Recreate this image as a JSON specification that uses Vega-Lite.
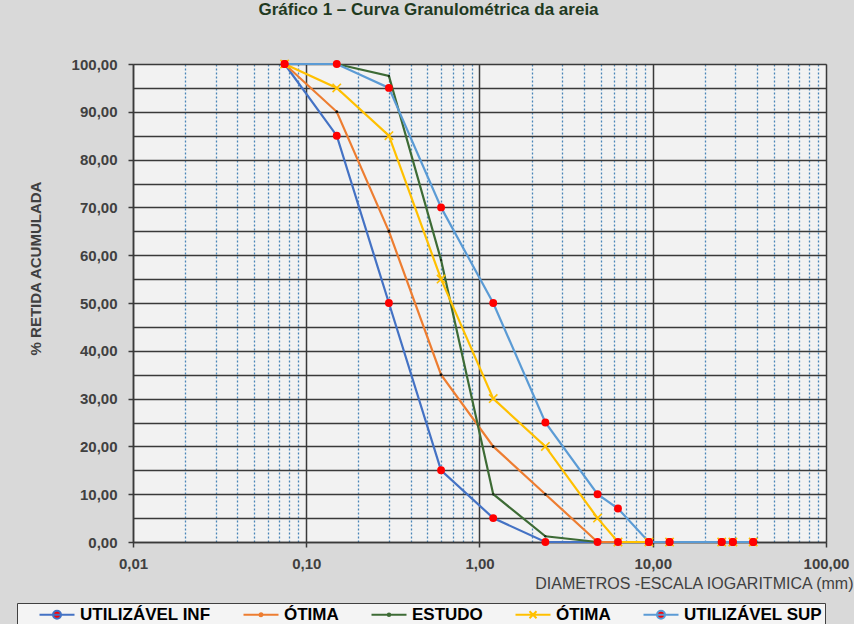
{
  "$schema": "https://vega.github.io/schema/vega-lite/v6.json",
  "autosize": {"type": "none"},
  "width": 693,
  "height": 478,
  "padding": {"left": 133, "top": 64, "right": 28, "bottom": 82},
  "background": "#d9d9d9",
  "title": {
    "text": "Gráfico 1 – Curva Granulométrica da areia",
    "font": "Liberation Sans",
    "fontSize": 17,
    "fontWeight": "bold",
    "color": "#1f3a1f",
    "anchor": "middle",
    "frame": "group",
    "baseline": "alphabetic",
    "offset": 0,
    "dx": -51,
    "dy": -25
  },
  "data": {
    "values": [
      {"d": 0.075, "p": 100, "s": "INF"}, {"d": 0.15, "p": 85, "s": "INF"}, {"d": 0.3, "p": 50, "s": "INF"}, {"d": 0.6, "p": 15, "s": "INF"}, {"d": 1.2, "p": 5, "s": "INF"}, {"d": 2.4, "p": 0, "s": "INF"}, {"d": 4.8, "p": 0, "s": "INF"}, {"d": 6.3, "p": 0, "s": "INF"}, {"d": 9.5, "p": 0, "s": "INF"}, {"d": 12.5, "p": 0, "s": "INF"}, {"d": 25, "p": 0, "s": "INF"}, {"d": 29, "p": 0, "s": "INF"}, {"d": 38, "p": 0, "s": "INF"},
      {"d": 0.075, "p": 100, "s": "OT1"}, {"d": 0.15, "p": 90, "s": "OT1"}, {"d": 0.3, "p": 65, "s": "OT1"}, {"d": 0.6, "p": 35, "s": "OT1"}, {"d": 1.2, "p": 20, "s": "OT1"}, {"d": 2.4, "p": 10, "s": "OT1"}, {"d": 4.8, "p": 0, "s": "OT1"}, {"d": 6.3, "p": 0, "s": "OT1"}, {"d": 9.5, "p": 0, "s": "OT1"}, {"d": 12.5, "p": 0, "s": "OT1"}, {"d": 25, "p": 0, "s": "OT1"}, {"d": 29, "p": 0, "s": "OT1"}, {"d": 38, "p": 0, "s": "OT1"},
      {"d": 0.075, "p": 100, "s": "EST"}, {"d": 0.15, "p": 100, "s": "EST"}, {"d": 0.3, "p": 97.5, "s": "EST"}, {"d": 0.6, "p": 59, "s": "EST"}, {"d": 1.2, "p": 10, "s": "EST"}, {"d": 2.4, "p": 1.2, "s": "EST"}, {"d": 4.8, "p": 0, "s": "EST"},
      {"d": 0.075, "p": 100, "s": "OT2"}, {"d": 0.15, "p": 95, "s": "OT2"}, {"d": 0.3, "p": 85, "s": "OT2"}, {"d": 0.6, "p": 55, "s": "OT2"}, {"d": 1.2, "p": 30, "s": "OT2"}, {"d": 2.4, "p": 20, "s": "OT2"}, {"d": 4.8, "p": 5, "s": "OT2"}, {"d": 6.3, "p": 0, "s": "OT2"}, {"d": 9.5, "p": 0, "s": "OT2"}, {"d": 12.5, "p": 0, "s": "OT2"}, {"d": 25, "p": 0, "s": "OT2"}, {"d": 29, "p": 0, "s": "OT2"}, {"d": 38, "p": 0, "s": "OT2"},
      {"d": 0.075, "p": 100, "s": "SUP"}, {"d": 0.15, "p": 100, "s": "SUP"}, {"d": 0.3, "p": 95, "s": "SUP"}, {"d": 0.6, "p": 70, "s": "SUP"}, {"d": 1.2, "p": 50, "s": "SUP"}, {"d": 2.4, "p": 25, "s": "SUP"}, {"d": 4.8, "p": 10, "s": "SUP"}, {"d": 6.3, "p": 7, "s": "SUP"}, {"d": 9.5, "p": 0, "s": "SUP"}, {"d": 12.5, "p": 0, "s": "SUP"}, {"d": 25, "p": 0, "s": "SUP"}, {"d": 29, "p": 0, "s": "SUP"}, {"d": 38, "p": 0, "s": "SUP"}
    ]
  },
  "layer": [
    {
      "mark": {"type": "line", "strokeWidth": 2.2},
      "encoding": {
        "x": {"field": "d", "type": "quantitative", "scale": {"type": "log", "domain": [0.01, 100], "nice": false},
          "axis": {"orient": "bottom", "values": [0.02,0.03,0.04,0.05,0.06,0.07,0.08,0.09,0.2,0.3,0.4,0.5,0.6,0.7,0.8,0.9,2,3,4,5,6,7,8,9,20,30,40,50,60,70,80,90],
            "grid": true, "gridColor": "#4a86b8", "gridDash": [2, 2], "gridWidth": 1.3, "labels": false, "ticks": false, "domain": false, "title": null}},
        "y": {"field": "p", "type": "quantitative", "scale": {"domain": [0, 100], "nice": false},
          "axis": {"orient": "left", "values": [5,15,25,35,45,55,65,75,85,95], "grid": true, "gridColor": "#3a3a3a", "gridWidth": 1.5, "labels": false, "ticks": false, "domain": false, "title": null}},
        "stroke": {"field": "s", "type": "nominal", "title": " ",
          "scale": {"domain": ["INF", "OT1", "EST", "OT2", "SUP"], "range": ["#4472C4", "#ED7D31", "#3D6B35", "#FFC000", "#5B9BD5"]},
          "legend": {"orient": "none", "legendX": -116, "legendY": 539, "direction": "horizontal",
            "labelExpr": "datum.value == 'INF' ? 'UTILIZÁVEL INF' : datum.value == 'EST' ? 'ESTUDO' : datum.value == 'SUP' ? 'UTILIZÁVEL SUP' : 'ÓTIMA'"}}
      }
    },
    {
      "transform": [{"filter": "datum.s === 'OT1'"}],
      "mark": {"type": "point", "filled": true, "shape": "circle", "color": "#111111", "size": 9, "opacity": 1},
      "encoding": {
        "x": {"field": "d", "type": "quantitative", "scale": {"type": "log", "domain": [0.01, 100], "nice": false}, "axis": null},
        "y": {"field": "p", "type": "quantitative", "scale": {"domain": [0, 100], "nice": false}, "axis": null}
      }
    },
    {
      "transform": [{"filter": "datum.s === 'EST'"}],
      "mark": {"type": "point", "filled": true, "shape": "circle", "color": "#1c3318", "size": 6, "opacity": 1},
      "encoding": {
        "x": {"field": "d", "type": "quantitative", "scale": {"type": "log", "domain": [0.01, 100], "nice": false}, "axis": null},
        "y": {"field": "p", "type": "quantitative", "scale": {"domain": [0, 100], "nice": false}, "axis": null}
      }
    },
    {
      "transform": [{"filter": "datum.s === 'OT2'"}],
      "mark": {"type": "point", "filled": false, "shape": "M-1,-1L1,1M-1,1L1,-1", "color": "#FFC000", "strokeWidth": 1.6, "size": 70, "opacity": 1},
      "encoding": {
        "x": {"field": "d", "type": "quantitative", "scale": {"type": "log", "domain": [0.01, 100], "nice": false}, "axis": null},
        "y": {"field": "p", "type": "quantitative", "scale": {"domain": [0, 100], "nice": false}, "axis": null}
      }
    },
    {
      "transform": [{"filter": "datum.s === 'INF' || datum.s === 'SUP'"}],
      "mark": {"type": "point", "filled": true, "shape": "circle", "color": "#FF0000", "size": 62, "opacity": 1},
      "encoding": {
        "x": {"field": "d", "type": "quantitative", "scale": {"type": "log", "domain": [0.01, 100], "nice": false},
          "axis": {"orient": "bottom", "values": [0.01, 0.1, 1, 10, 100], "format": ".2f", "grid": true, "gridColor": "#3a3a3a", "gridWidth": 1.5,
            "domain": true, "domainColor": "#3a3a3a", "domainWidth": 1.5, "ticks": true, "tickColor": "#3a3a3a", "tickWidth": 1.5, "tickSize": 5,
            "labelFont": "Liberation Sans", "labelFontSize": 15, "labelFontWeight": "bold", "labelColor": "#404040", "labelPadding": 9,
            "labelFlush": false, "labelOverlap": false,
            "title": "DIAMETROS -ESCALA IOGARITMICA (mm)", "titleFont": "Liberation Sans", "titleFontSize": 16, "titleFontWeight": "normal",
            "titleColor": "#404040", "titleAlign": "right", "titleAnchor": "end", "titleX": 720, "titleY": 41, "titleBaseline": "middle"}},
        "y": {"field": "p", "type": "quantitative", "scale": {"domain": [0, 100], "nice": false},
          "axis": {"orient": "left", "values": [0,10,20,30,40,50,60,70,80,90,100], "format": ".2f", "grid": true, "gridColor": "#3a3a3a", "gridWidth": 1.5,
            "domain": true, "domainColor": "#3a3a3a", "domainWidth": 1.5, "ticks": true, "tickColor": "#3a3a3a", "tickWidth": 1.5, "tickSize": 5,
            "labelFont": "Liberation Sans", "labelFontSize": 15, "labelFontWeight": "bold", "labelColor": "#404040", "labelPadding": 11,
            "labelOverlap": false, "labelFlush": false,
            "title": "% RETIDA  ACUMULADA", "titleFont": "Liberation Sans", "titleFontSize": 15, "titleFontWeight": "bold", "titleColor": "#404040",
            "titleAngle": 270, "titleX": -98, "titleY": 204, "titleAlign": "center", "titleBaseline": "middle"}}
      }
    },
    {
      "transform": [{"filter": "datum.p < -1"}],
      "mark": {"type": "point", "opacity": 1},
      "encoding": {
        "x": {"field": "d", "type": "quantitative", "scale": {"type": "log", "domain": [0.01, 100], "nice": false}, "axis": null},
        "y": {"field": "p", "type": "quantitative", "scale": {"domain": [0, 100], "nice": false}, "axis": null},
        "stroke": {"field": "s", "type": "nominal", "title": " ",
          "scale": {"domain": ["INF", "OT1", "EST", "OT2", "SUP"], "range": ["#4472C4", "#ED7D31", "#3D6B35", "#FFC000", "#5B9BD5"]},
          "legend": {"orient": "none", "legendX": -116, "legendY": 539, "direction": "horizontal",
            "labelExpr": "datum.value == 'INF' ? 'UTILIZÁVEL INF' : datum.value == 'EST' ? 'ESTUDO' : datum.value == 'SUP' ? 'UTILIZÁVEL SUP' : 'ÓTIMA'"}},
        "fill": {"field": "s", "type": "nominal", "title": " ",
          "scale": {"domain": ["INF", "OT1", "EST", "OT2", "SUP"], "range": ["#FF0000", "#111111", "#1c3318", "transparent", "#FF0000"]},
          "legend": {"orient": "none", "legendX": -116, "legendY": 539, "direction": "horizontal",
            "labelExpr": "datum.value == 'INF' ? 'UTILIZÁVEL INF' : datum.value == 'EST' ? 'ESTUDO' : datum.value == 'SUP' ? 'UTILIZÁVEL SUP' : 'ÓTIMA'"}},
        "shape": {"field": "s", "type": "nominal", "title": " ",
          "scale": {"domain": ["INF", "OT1", "EST", "OT2", "SUP"],
            "range": ["M-1,0H6M1.7,0A0.8,0.8,0,1,1,3.3,0A0.8,0.8,0,1,1,1.7,0Z", "M-1,0H6M2.2,0A0.3,0.3,0,1,1,2.8,0A0.3,0.3,0,1,1,2.2,0Z", "M-1,0H6M2.25,0A0.25,0.25,0,1,1,2.75,0A0.25,0.25,0,1,1,2.25,0Z", "M-1,0H6M1.8,-0.7L3.2,0.7M1.8,0.7L3.2,-0.7", "M-1,0H6M1.7,0A0.8,0.8,0,1,1,3.3,0A0.8,0.8,0,1,1,1.7,0Z"]},
          "legend": {"orient": "none", "legendX": -116, "legendY": 539, "direction": "horizontal",
            "labelExpr": "datum.value == 'INF' ? 'UTILIZÁVEL INF' : datum.value == 'EST' ? 'ESTUDO' : datum.value == 'SUP' ? 'UTILIZÁVEL SUP' : 'ÓTIMA'"}}
      }
    }
  ],
  "resolve": {"axis": {"x": "independent", "y": "independent"}},
  "config": {
    "font": "Liberation Sans",
    "locale": {"number": {"decimal": ",", "thousands": ".", "grouping": [3], "currency": ["R$", ""]}},
    "view": {"fill": "#f2f2f2", "stroke": "#8a8a8a", "strokeWidth": 1},
    "legend": {
      "labelFont": "Liberation Sans", "labelFontSize": 17, "labelFontWeight": "bold", "labelColor": "#000000",
      "labelOffset": 27, "columnPadding": 28, "symbolSize": 100, "symbolStrokeWidth": 2, "padding": 3,
      "fillColor": "#f4f4f4", "strokeColor": "#404040", "titleOrient": "left", "titlePadding": 16, "titleFontSize": 10,
      "labelLimit": 300
    }
  }
}
